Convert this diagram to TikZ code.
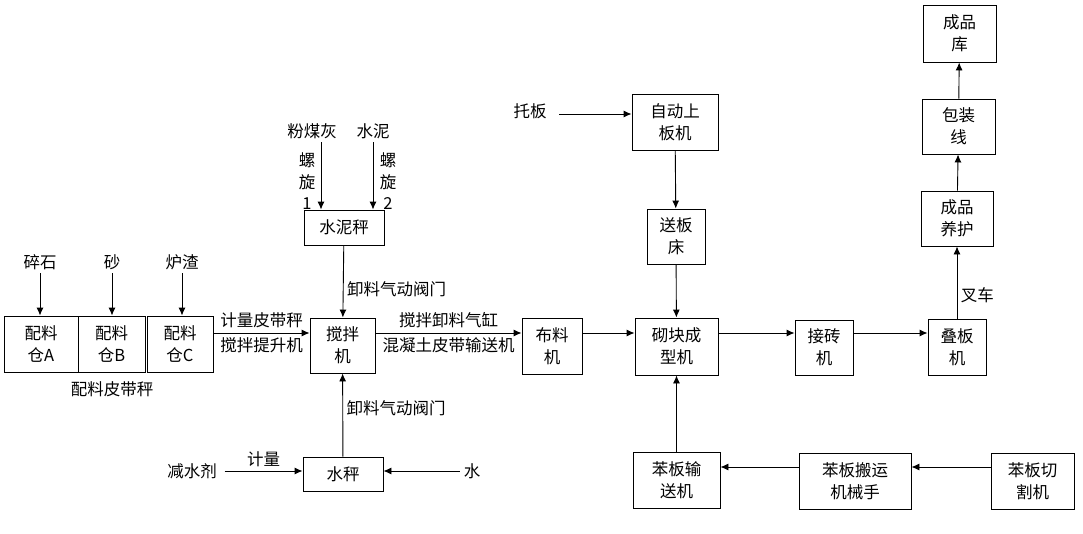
\documentclass[tikz,border=0pt]{standalone}
\usepackage{fontspec}
\setmainfont{Noto Sans CJK SC}
\usetikzlibrary{arrows.meta,positioning}

\begin{document}
\begin{tikzpicture}[x=1pt,y=-1pt,line width=0.9pt,>={Latex[length=8pt,width=7pt]},
    every node/.style={font=\fontsize{16.5}{22}\selectfont},
    unit/.style={draw,align=center,inner sep=0pt},
    wh/.style 2 args={minimum width=#1,minimum height=#2}]
    \useasboundingbox (0,0) rectangle (1083,533);
    \coordinate (flow) at (0,333);
    \coordinate (back) at (0,467);
    % batching
    \node[unit,wh={74pt}{56pt}] (binA) at (41,344) {配料\\仓A};
    \node[unit,wh={67pt}{56pt}] (binB) at (111.5,344) {配料\\仓B};
    \node[unit,wh={66pt}{56pt}] (binC) at (180,344) {配料\\仓C};
    \node (gravel) at (40,262) {碎石};
    \node (sand) at (112,262) {砂};
    \node (slag) at (182,262) {炉渣};
    \node (belt) at (112,389) {配料皮带秤};
    % mixing
    \node[unit,wh={65pt}{55pt}] (mixer) at (342.5,345.5) {搅拌\\机};
    \node[unit,wh={80pt}{35pt}] (cementScale) at (344,227.5) {水泥秤};
    \node[unit,wh={80pt}{34pt}] (waterScale) at (343,474) {水秤};
    \node (flyash) at (312,131) {粉煤灰};
    \node (cement) at (373,131) {水泥};
    \node[align=center] (screw1) at (307,171) {螺\\旋};
    \node[align=center] (screw2) at (388,171) {螺\\旋};
    \node (no1) at (307,204) {1};
    \node (no2) at (388,204) {2};
    \node (reducer) at (192,471) {减水剂};
    \node (water) at (472,471) {水};
    % forming
    \node[unit,wh={60pt}{56pt}] (spreader) at (552,346) {布料\\机};
    \node[unit,wh={83pt}{57pt}] (former) at (676.5,346.5) {砌块成\\型机};
    \node[unit,wh={86pt}{56pt}] (loader) at (675,122) {自动上\\板机};
    \node[unit,wh={58pt}{55pt}] (feeder) at (676,236.5) {送板\\床};
    \node (pallet) at (530,111) {托板};
    \node[unit,wh={58pt}{55pt}] (receiver) at (824,347.5) {接砖\\机};
    \node[unit,wh={58pt}{56pt}] (stacker) at (957,347) {叠板\\机};
    \node[unit,wh={72pt}{55pt}] (curing) at (957,218.5) {成品\\养护};
    \node[unit,wh={73pt}{55pt}] (packing) at (958.5,126.5) {包装\\线};
    \node[unit,wh={73pt}{57pt}] (store) at (959.5,33.5) {成品\\库};
    % EPS board line
    \node[unit,wh={87pt}{56pt}] (conveyor) at (676.5,480) {苯板输\\送机};
    \node[unit,wh={112pt}{56pt}] (robot) at (855,481) {苯板搬运\\机械手};
    \node[unit,wh={83pt}{56pt}] (cutter) at (1032.5,481) {苯板切\\割机};

    \path[->]
        (gravel.south) edge (gravel.south |- binA.north)
        (sand.south) edge (sand.south |- binB.north)
        (slag.south) edge (slag.south |- binC.north)
        (binC.east |- flow) edge node[above=1pt] {计量皮带秤} node[below=1pt] {搅拌提升机} (mixer.west |- flow)
        ([xshift=9pt]flyash.south) edge ([xshift=9pt]flyash.south |- cementScale.north)
        (cement.south) edge (cement.south |- cementScale.north)
        (cementScale) edge node[right,pos=0.6] {卸料气动阀门} (mixer)
        (waterScale) edge node[right,pos=0.58] {卸料气动阀门} (mixer)
        ([xshift=4pt]reducer.east) edge node[above] {计量} (waterScale.west |- reducer.east)
        (water.west) edge (waterScale.east |- water.west)
        (mixer.east |- flow) edge node[above=1pt] {搅拌卸料气缸} node[below=1pt] {混凝土皮带输送机} (spreader.west |- flow)
        (spreader.east |- flow) edge (former.west |- flow)
        ([xshift=9pt,yshift=-3pt]pallet.east) edge ([yshift=-3pt]pallet.east -| loader.west)
        (loader) edge (feeder)
        (feeder) edge (former)
        (former.east |- flow) edge (receiver.west |- flow)
        (receiver.east |- flow) edge (stacker.west |- flow)
        (stacker) edge node[right,pos=0.32] {叉车} (curing)
        (curing) edge (packing)
        (packing) edge (store)
        (cutter.west |- back) edge (robot.east |- back)
        (robot.west |- back) edge (conveyor.east |- back)
        (conveyor) edge (former);
\end{tikzpicture}
\end{document}
